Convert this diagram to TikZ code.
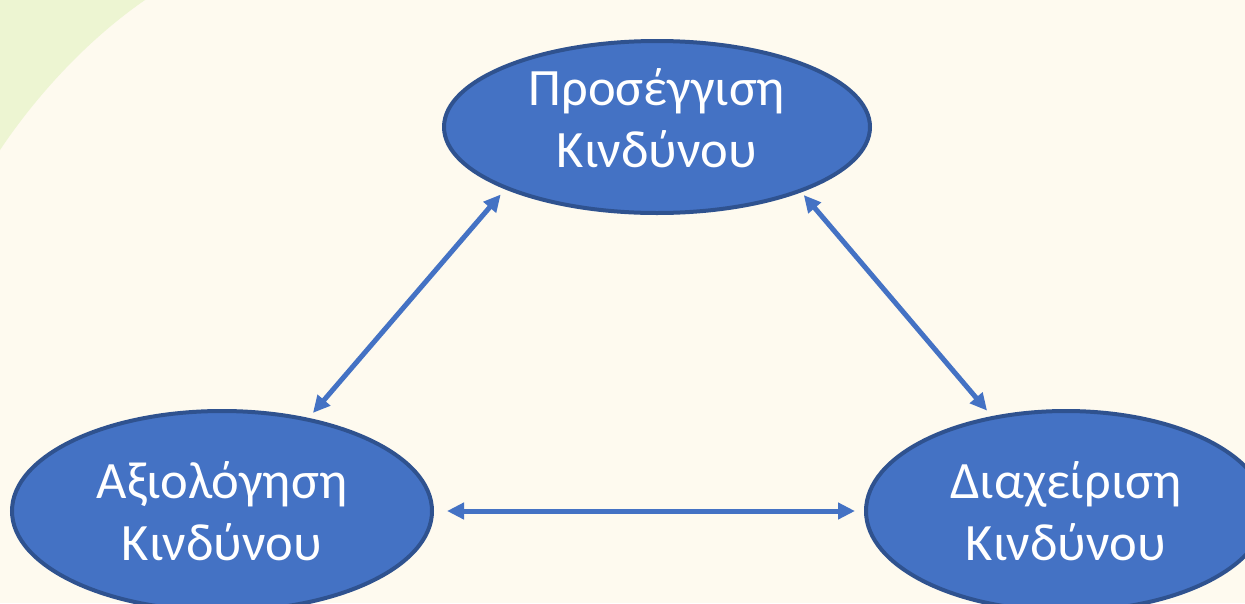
\documentclass[tikz,border=0pt]{standalone}
\usepackage{fontspec}
\setmainfont{Carlito}
\usetikzlibrary{shapes.geometric,arrows.meta}
\definecolor{bgcream}{HTML}{FEFAEF}
\definecolor{bggreen}{HTML}{EDF5D2}
\definecolor{boxfill}{HTML}{4472C4}
\definecolor{boxline}{HTML}{2F528F}
\definecolor{arrcol}{HTML}{4472C4}
\tikzset{
  bubble/.style={ellipse, draw=boxline, fill=boxfill, line width=4pt, inner sep=0pt, outer sep=0pt,
    text=white, align=center, font=\fontsize{52.5}{62}\selectfont},
  link/.style={draw=arrcol, line width=5pt, {Triangle[length=17pt,width=16pt]}-{Triangle[length=17pt,width=16pt]}}
}
\begin{document}
\begin{tikzpicture}[x=1pt,y=-1pt]
\useasboundingbox (0,0) rectangle (1245,603);
\fill[bgcream] (0,0) rectangle (1245,603);
\fill[bggreen] (0,0) -- (145,0) .. controls (80,45) and (30,105) .. (0,150) -- cycle;
\node[bubble, minimum width=426pt, minimum height=172pt, text depth=18pt] (top) at (657,127) {Προσέγγιση\\Κινδύνου};
\node[bubble, minimum width=420pt, minimum height=200pt] (left) at (222,511) {Αξιολόγηση\\Κινδύνου};
\node[bubble, minimum width=400pt, minimum height=200pt] (right) at (1066,511) {Διαχείριση\\Κινδύνου};
\draw[link, shorten <=8.8pt, shorten >=8.8pt] (left.47) -- (top.202.4);
\draw[link, shorten <=5.7pt, shorten >=9.5pt] (top.336.1) -- (right.128.9);
\draw[link, shorten <=15pt, shorten >=11pt] (left.east) -- (right.west);
\end{tikzpicture}
\end{document}
